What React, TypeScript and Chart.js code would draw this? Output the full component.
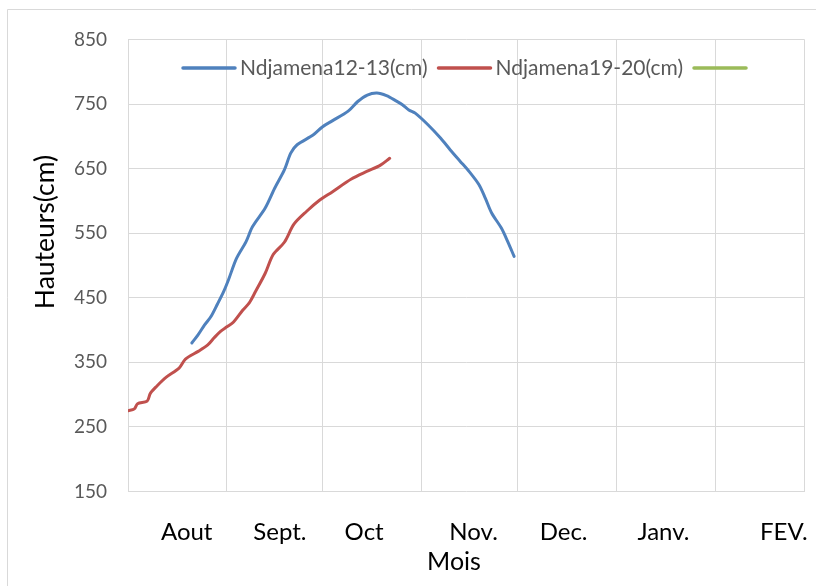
import React, { useEffect, useRef } from "react";
import { Chart, registerables } from "chart.js";

Chart.register(...registerables);

// Days counted from 1 August (day 0) to end of February (day 212)
const monthNames = ["Aout", "Sept.", "Oct", "Nov.", "Dec.", "Janv.", "FEV."];
const monthBoundaryDays = [0, 31, 61, 92, 122, 153, 184, 212];
const monthLabelDays = [18.4, 47.6, 74, 108.3, 136.5, 167.8, 205.5];

const yTicks = [150, 250, 350, 450, 550, 650, 750, 850];

const series1Label = "Ndjamena12-13(cm)";
const series1Days = [20, 22, 24, 26, 28, 30, 31.5, 34, 37, 39, 43, 46, 49, 51, 53, 58, 61, 64, 69, 72, 75, 78, 81, 84, 86, 88, 90, 94, 98, 101, 104, 107, 110, 112, 114, 117, 119, 121];
const series1Values = [380, 393, 408, 421, 440, 460, 478, 511, 537, 560, 589, 620, 648, 674, 687, 702, 715, 724, 739, 754, 764, 767, 763, 755, 749, 741, 736, 718, 697, 679, 662, 645, 625, 604, 581, 558, 537, 514];

const series2Label = "Ndjamena19-20(cm)";
const series2Days = [0, 2, 3, 6, 7, 9, 12, 16, 18, 22, 25, 27, 29, 31, 33, 36, 38, 40, 43, 45.5, 49, 52, 56, 60, 64, 70, 75, 79, 82];
const series2Values = [275, 278, 286, 290, 302, 313, 327, 341, 355, 367, 377, 388, 398, 405, 412, 431, 442, 460, 488, 517, 536, 564, 584, 601, 614, 634, 646, 655, 666];

const series3Label = "";
const series3Values: number[] = [];

const colors = ["#4F81BD", "#C0504D", "#9BBB59"];
const FONT = "Lato";

function toPoints(days: number[], vals: number[]) {
  return days.map((d, i) => ({ x: d, y: vals[i] }));
}

const framePlugin = {
  id: "frame",
  beforeDraw(chart: any) {
    const { ctx, width, height } = chart;
    ctx.save();
    ctx.fillStyle = "#ffffff";
    ctx.fillRect(0, 0, width, height);
    ctx.strokeStyle = "#d9d9d9";
    ctx.lineWidth = 1;
    ctx.beginPath();
    ctx.moveTo(7.5, height);
    ctx.lineTo(7.5, 9.5);
    ctx.lineTo(width, 9.5);
    ctx.stroke();
    ctx.restore();
  },
  afterDraw(chart: any) {
    const { ctx } = chart;
    ctx.save();
    // axis titles
    ctx.fillStyle = "#000000";
    ctx.textAlign = "center";
    ctx.textBaseline = "middle";
    ctx.font = `25px ${FONT}`;
    ctx.fillText("Mois", 454, 562);
    ctx.font = `26.5px ${FONT}`;
    ctx.translate(45, 232);
    ctx.rotate(-Math.PI / 2);
    ctx.fillText("Hauteurs(cm)", 0, 0);
    ctx.restore();

    // legend
    ctx.save();
    ctx.font = `21px ${FONT}`;
    ctx.textBaseline = "middle";
    ctx.textAlign = "left";
    const lineW = 52;
    const gapA = 5;
    const gapB = 11;
    const items = chart.data.datasets.map((ds: any) => ({
      label: ds.label as string,
      color: ds.borderColor as string,
      w: ctx.measureText(ds.label).width,
    }));
    let x = 183;
    const y = 68;
    items.forEach((it: any) => {
      ctx.strokeStyle = it.color;
      ctx.lineWidth = 3.5;
      ctx.lineCap = "round";
      ctx.beginPath();
      ctx.moveTo(x, y);
      ctx.lineTo(x + lineW, y);
      ctx.stroke();
      x += lineW;
      if (it.w > 0) {
        x += gapA;
        ctx.fillStyle = "#595959";
        ctx.fillText(it.label, x, y);
        x += it.w;
      }
      x += gapB;
    });
    ctx.restore();
  },
};

export default function App() {
  const ref = useRef<HTMLCanvasElement>(null);
  useEffect(() => {
    const canvas = ref.current!;
    const chart = new Chart(canvas, {
      type: "line",
      data: {
        datasets: [
          { label: series1Label, data: toPoints(series1Days, series1Values), borderColor: colors[0], backgroundColor: colors[0] },
          { label: series2Label, data: toPoints(series2Days, series2Values), borderColor: colors[1], backgroundColor: colors[1] },
          { label: series3Label, data: series3Values, borderColor: colors[2], backgroundColor: colors[2] },
        ],
      },
      options: {
        responsive: false,
        animation: false,
        devicePixelRatio: 1,
        elements: {
          line: { borderWidth: 3, tension: 0.3, borderCapStyle: "round", borderJoinStyle: "round" },
          point: { radius: 0, hoverRadius: 0 },
        },
        layout: { padding: { left: 0, top: 39.5, right: 11.5, bottom: 0 } },
        plugins: { legend: { display: false }, tooltip: { enabled: false }, title: { display: false } },
        scales: {
          x: {
            type: "linear",
            min: monthBoundaryDays[0],
            max: monthBoundaryDays[monthBoundaryDays.length - 1],
            afterBuildTicks: (scale: any) => {
              const vals = [...monthBoundaryDays, ...monthLabelDays].sort((a, b) => a - b);
              scale.ticks = vals.map((v) => ({ value: v }));
            },
            afterFit: (scale: any) => {
              scale.height = 94.5;
              scale.paddingLeft = 0;
              scale.paddingRight = 0;
            },
            grid: {
              drawTicks: false,
              lineWidth: 1,
              color: (ctx: any) => (ctx.tick && monthBoundaryDays.includes(ctx.tick.value) ? "#d9d9d9" : "rgba(0,0,0,0)"),
            },
            border: { display: false },
            ticks: {
              autoSkip: false,
              maxRotation: 0,
              minRotation: 0,
              padding: 26,
              color: "#000000",
              font: { family: FONT, size: 24, lineHeight: 1.2 },
              callback: (value: any) => {
                const i = monthLabelDays.indexOf(value);
                return i >= 0 ? monthNames[i] : "";
              },
            },
          },
          y: {
            type: "linear",
            min: yTicks[0],
            max: yTicks[yTicks.length - 1],
            afterBuildTicks: (scale: any) => {
              scale.ticks = yTicks.map((v) => ({ value: v }));
            },
            afterFit: (scale: any) => {
              scale.width = 128;
              scale.paddingTop = 0;
              scale.paddingBottom = 0;
            },
            grid: { drawTicks: false, color: "#d9d9d9", lineWidth: 1 },
            border: { display: false },
            ticks: {
              padding: 21,
              color: "#595959",
              font: { family: FONT, size: 19, lineHeight: 1.2 },
            },
          },
        },
      },
      plugins: [framePlugin],
    });
    return () => chart.destroy();
  }, []);
  return (
    <canvas
      ref={ref}
      width={816}
      height={586}
      style={{ position: "absolute", left: 0, top: 0, display: "block", width: 816, height: 586 }}
    />
  );
}
